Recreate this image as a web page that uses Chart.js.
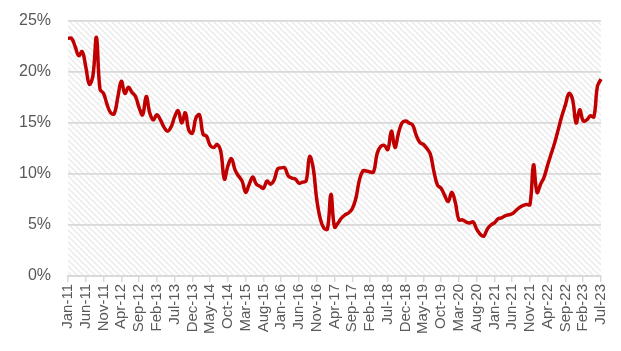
<!DOCTYPE html>
<html>
<head>
  <meta charset="UTF-8">
  <title>Rate</title>
  <script src="https://cdn.jsdelivr.net/npm/chart.js"></script>
  <style>
    body { margin: 0; padding: 0; background: #fff; }
    #wrap { width: 621px; height: 351px; }
  </style>
</head>
<body>
  <div id="wrap"><canvas id="chart"></canvas></div>

  <script>
    // monthly categories Jan-11 .. Jul-23
    const months = ['Jan','Feb','Mar','Apr','May','Jun','Jul','Aug','Sep','Oct','Nov','Dec'];
    const labels = [];
    for (let y = 11; y <= 23; y++) {
      for (let m = 0; m < 12; m++) {
        if (y === 23 && m > 6) break;
        labels.push(months[m] + '-' + y);
      }
    }

    // values in %
    const rate = [
      23.3, 23.3, 22.5, 21.6, 22.0, 20.5, 18.8, 19.6, 23.4, 18.3, 17.9, 16.8,
      16.0, 15.9, 17.5, 19.1, 17.9, 18.5, 18.0, 17.6, 16.5, 15.8, 17.6, 16.0,
      15.3, 15.8, 15.3, 14.6, 14.2, 14.6, 15.6, 16.2, 15.0, 16.0, 14.3, 14.0,
      15.5, 15.8, 13.9, 13.7, 12.8, 12.6, 12.9, 12.2, 9.5, 10.8, 11.5, 10.4,
      9.8, 9.3, 8.2, 9.0, 9.7, 9.0, 8.8, 8.6, 9.3, 9.0, 9.4, 10.5,
      10.6, 10.6, 9.8, 9.6, 9.5, 9.1, 9.2, 9.3, 11.7, 10.6, 7.5, 5.6,
      4.7, 4.6, 8.0, 4.8, 5.2, 5.7, 6.0, 6.2, 6.6, 7.6, 9.4, 10.3,
      10.3, 10.2, 10.2, 12.0, 12.7, 12.8, 12.4, 14.2, 12.6, 14.0, 15.0, 15.2,
      15.0, 14.8, 13.8, 13.1, 12.9, 12.5, 11.9, 10.2, 8.9, 8.6, 7.9, 7.3,
      8.2, 7.2, 5.5, 5.5, 5.3, 5.2, 5.3, 4.6, 4.1, 3.9, 4.6, 5.0,
      5.2, 5.6, 5.7, 5.9, 6.0, 6.1, 6.4, 6.7, 6.9, 7.0, 7.0, 10.9,
      8.2, 9.0, 9.7, 10.9, 12.0, 13.1, 14.4, 15.7, 16.8, 17.9, 17.3, 15.0,
      16.3, 15.2, 15.3, 15.7, 15.6, 18.6, 19.3
    ];

    const yTicks = [0, 5, 10, 15, 20, 25];

    // light diagonal hatch behind the plot
    function hatch() {
      const c = document.createElement('canvas');
      c.width = 6; c.height = 6;
      const g = c.getContext('2d');
      g.fillStyle = '#ffffff';
      g.fillRect(0, 0, 6, 6);
      g.strokeStyle = '#ebebeb';
      g.lineWidth = 1.5;
      g.beginPath();
      g.moveTo(-1, -1); g.lineTo(7, 7);
      g.moveTo(-4, 2); g.lineTo(2, 8);
      g.moveTo(2, -4); g.lineTo(8, 2);
      g.stroke();
      return g.createPattern(c, 'repeat');
    }

    const bgPlugin = {
      id: 'bg',
      beforeDraw(chart) {
        const a = chart.chartArea;
        const ctx = chart.ctx;
        ctx.save();
        ctx.fillStyle = hatch();
        ctx.fillRect(a.left, a.top, a.right - a.left, a.bottom - a.top);
        ctx.restore();
      }
    };

    new Chart(document.getElementById('chart'), {
      type: 'line',
      data: {
        labels: labels,
        datasets: [{
          data: rate,
          borderColor: '#c00000',
          borderWidth: 3.5,
          pointRadius: 0,
          tension: 0.4,
          fill: false
        }]
      },
      options: {
        responsive: true,
        maintainAspectRatio: false,
        animation: false,
        layout: { padding: { left: 2, right: 17, top: 21, bottom: 15 } },
        plugins: {
          legend: { display: false },
          tooltip: { enabled: false }
        },
        scales: {
          x: {
            grid: {
              drawOnChartArea: false,
              drawTicks: true,
              tickLength: 6,
              color: '#d9d9d9',
              lineWidth: 1.5
            },
            border: { display: true, color: '#d9d9d9', width: 2 },
            ticks: {
              autoSkip: false,
              maxRotation: 90,
              minRotation: 90,
              padding: 2,
              color: '#595959',
              font: { family: 'Liberation Sans, Arial, sans-serif', size: 15 },
              callback: function(v, i) { return i % 5 === 0 ? labels[i] : null; }
            }
          },
          y: {
            min: 0,
            max: 25,
            afterBuildTicks: function(s) { s.ticks = yTicks.map(v => ({ value: v })); },
            afterFit: function(s) { s.paddingTop = 0; s.paddingBottom = 0; },
            grid: { color: '#d9d9d9', lineWidth: 1.8, drawTicks: false },
            border: { display: false },
            ticks: {
              padding: 17,
              color: '#595959',
              font: { family: 'Liberation Sans, Arial, sans-serif', size: 16 },
              callback: v => v + '%'
            }
          }
        }
      },
      plugins: [bgPlugin]
    });
  </script>
</body>
</html>
